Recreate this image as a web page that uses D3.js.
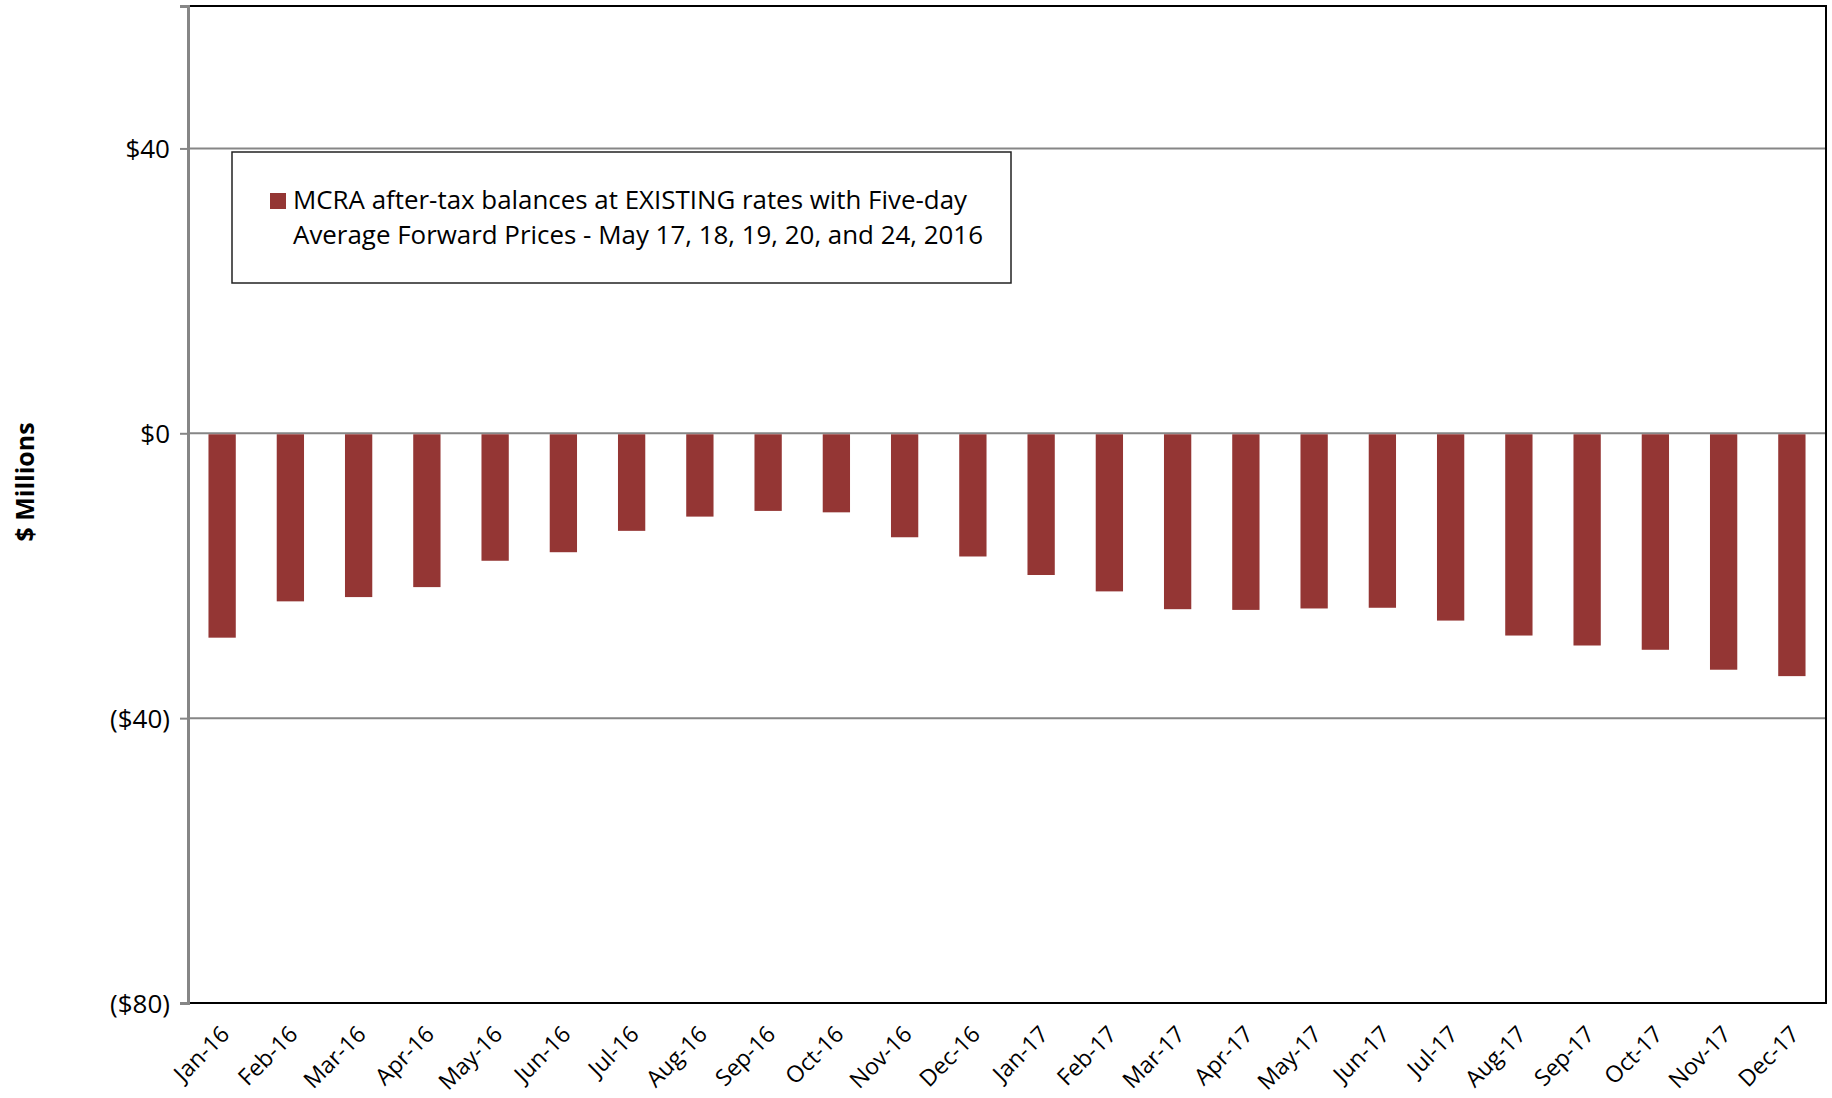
<!DOCTYPE html>
<html>
<head>
<meta charset="utf-8">
<script src="https://cdn.jsdelivr.net/npm/d3@7"></script>
<style>
  body { margin: 0; background: #fff; }
  svg { display: block; }
  text { font-family: "Open Sans", "Noto Sans", sans-serif; fill: #000; }
</style>
</head>
<body>
<div id="chart"></div>
<script>
const months = ['Jan-16', 'Feb-16', 'Mar-16', 'Apr-16', 'May-16', 'Jun-16', 'Jul-16', 'Aug-16',
  'Sep-16', 'Oct-16', 'Nov-16', 'Dec-16', 'Jan-17', 'Feb-17', 'Mar-17', 'Apr-17', 'May-17',
  'Jun-17', 'Jul-17', 'Aug-17', 'Sep-17', 'Oct-17', 'Nov-17', 'Dec-17']
const balances = [-28.7, -23.6, -23.0, -21.6, -17.9, -16.7, -13.7, -11.7, -10.9, -11.1, -14.6, -17.3,
  -19.9, -22.2, -24.7, -24.8, -24.6, -24.5, -26.3, -28.4, -29.8, -30.4, -33.2, -34.1]
const yTicks = [-80, -40, 0, 40]
const legendLines = ['MCRA after-tax balances at EXISTING rates with Five-day',
  'Average Forward Prices - May 17, 18, 19, 20, and 24, 2016']

const width = 1832, height = 1098
const margin = {top: 6, right: 6, bottom: 95, left: 188}
const innerW = width - margin.left - margin.right
const innerH = height - margin.top - margin.bottom

const svg = d3.select('#chart').append('svg')
  .attr('width', width)
  .attr('height', height)

const g = svg.append('g')
  .attr('transform', `translate(${margin.left}, ${margin.top})`)

const x = d3.scaleBand().domain(months).range([0, innerW]).paddingInner(0.6).paddingOuter(0.3)
const y = d3.scaleLinear().domain([-80, 60]).range([innerH, 0])

const fmt = v => v < 0 ? `($${Math.abs(v)})` : `$${v}`

// gridlines
g.selectAll('.grid')
  .data(yTicks.filter(t => t > -80))
  .enter().append('line')
  .attr('x1', 0).attr('x2', innerW)
  .attr('y1', d => y(d)).attr('y2', d => y(d))
  .attr('stroke', '#868686')
  .attr('stroke-width', 2)

// bars
g.selectAll('.bar')
  .data(balances)
  .enter().append('rect')
  .attr('x', (d, i) => x(months[i]))
  .attr('y', d => y(Math.max(0, d)) + 1)
  .attr('width', x.bandwidth())
  .attr('height', d => Math.abs(y(d) - y(0)) - 1)
  .attr('fill', '#943634')

// plot border
g.append('rect')
  .attr('width', innerW).attr('height', innerH)
  .attr('fill', 'none')
  .attr('stroke', '#000')
  .attr('stroke-width', 2)

// y axis
const yAxis = g.append('g')
  .call(d3.axisLeft(y).tickValues(yTicks).tickFormat(fmt).tickSize(8).tickPadding(10))
yAxis.select('.domain').attr('stroke', '#868686').attr('stroke-width', 3)
yAxis.selectAll('.tick line').attr('stroke', '#868686').attr('stroke-width', 2)
yAxis.selectAll('text')
  .style('font-size', '26px')
  .style('font-family', '"Open Sans", sans-serif')
  .attr('fill', '#000')
  .attr('dy', '0.35em')

// x labels
g.selectAll('.xlab')
  .data(months)
  .enter().append('text')
  .attr('transform', d => `translate(${x(d) + x.bandwidth() / 2 + 3}, ${innerH + 27}) rotate(-45)`)
  .attr('text-anchor', 'end')
  .attr('dy', '0.35em')
  .style('font-size', '23px')
  .text(d => d)

// y title
svg.append('text')
  .attr('transform', `translate(25, 482) rotate(-90)`)
  .attr('text-anchor', 'middle')
  .attr('dy', '0.35em')
  .style('font-size', '25px')
  .style('font-weight', 'bold')
  .text('$ Millions')

// legend
const legend = svg.append('g').attr('transform', 'translate(232, 152)')
legend.append('rect')
  .attr('width', 779).attr('height', 131)
  .attr('fill', '#fff')
  .attr('stroke', '#222')
  .attr('stroke-width', 1.5)
legend.append('rect')
  .attr('x', 38).attr('y', 41)
  .attr('width', 16).attr('height', 16)
  .attr('fill', '#943634')
legend.selectAll('.ltext')
  .data(legendLines)
  .enter().append('text')
  .attr('x', 61)
  .attr('y', (d, i) => 57 + i * 35)
  .attr('textLength', (d, i) => i == 0 ? 674 : 690)
  .attr('lengthAdjust', 'spacingAndGlyphs')
  .style('font-size', '25px')
  .text(d => d)
</script>
</body>
</html>
